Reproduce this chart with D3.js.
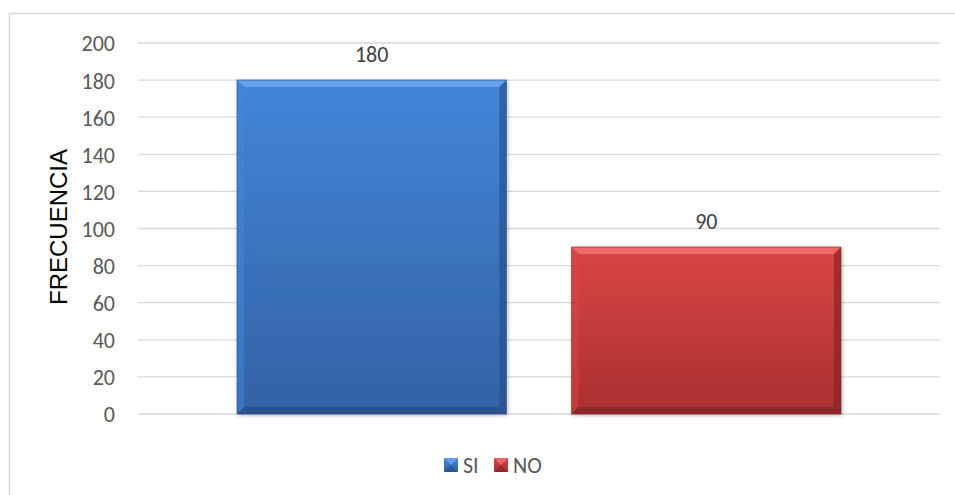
<!DOCTYPE html>
<html><head><meta charset="utf-8">
<script src="https://cdn.jsdelivr.net/npm/d3@7"></script>
<style>body{margin:0;background:#fff}svg{display:block}</style>
</head><body>
<svg id="c" width="955" height="495"></svg>
<script>
const series = ["SI", "NO"];
const values = [180, 90];
const category = [""];
const yTicks = [0, 20, 40, 60, 80, 100, 120, 140, 160, 180, 200];
const colors = {SI: {top: "#4386D8", bot: "#3362A5", light: "#6BA6EE", dark: "#254D86"},
                NO: {top: "#D94545", bot: "#A93030", light: "#EE7272", dark: "#7E2222"}};
const FONT = "Carlito, Lato, 'Open Sans', sans-serif";

const svg = d3.select("#c");
const defs = svg.append("defs");
const f = defs.append("filter").attr("id","sh").attr("x","-10%").attr("y","-10%").attr("width","120%").attr("height","120%");
f.append("feDropShadow").attr("dx",1).attr("dy",1).attr("stdDeviation",2).attr("flood-color","#000").attr("flood-opacity",0.35);
series.forEach(s => {
  const g = defs.append("linearGradient").attr("id","g"+s).attr("x1",0).attr("y1",0).attr("x2",0).attr("y2",1);
  g.append("stop").attr("offset","0%").attr("stop-color",colors[s].top);
  g.append("stop").attr("offset","100%").attr("stop-color",colors[s].bot);
});

svg.append("rect").attr("x",9.5).attr("y",13.5).attr("width",960).attr("height",500)
  .attr("fill","none").attr("stroke","#d9d9d9").attr("stroke-width",1.5);

const x0 = 138, x1 = 940;
const y = d3.scaleLinear().domain([0,200]).range([414,43]);
const xc = d3.scaleBand().domain(category).range([x0,x1]).paddingInner(0).paddingOuter(0.164);
const xs = d3.scaleBand().domain(series).range([0, xc.bandwidth()]).paddingInner(0.195).paddingOuter(0);

// gridlines
svg.append("g").selectAll("line").data(yTicks).join("line")
  .attr("x1",x0).attr("x2",x1).attr("y1",d=>y(d)).attr("y2",d=>y(d))
  .attr("stroke","#d9d9d9").attr("stroke-width",1.3);

// y axis labels
const yAxis = d3.axisLeft(y).tickValues(yTicks).tickSize(0).tickPadding(0);
const ga = svg.append("g").attr("transform","translate(115,0)").call(yAxis);
ga.select(".domain").remove();
ga.selectAll("text").attr("font-family",FONT).attr("font-size",22).attr("fill","#595959").attr("dy","0.36em");

svg.append("text").attr("transform","translate(67,227) rotate(-90)").attr("text-anchor","middle")
  .attr("font-family","'Liberation Sans', Arial, sans-serif").attr("font-size",24).attr("fill","#000").text("FRECUENCIA");

// bars
const bev = 7;
series.forEach((s,i) => {
  const bx = xc(category[0]) + xs(s), bw = xs.bandwidth();
  const by = y(values[i]), bh = y(0) - by;
  const g = svg.append("g");
  g.append("rect").attr("x",bx).attr("y",by).attr("width",bw).attr("height",bh)
    .attr("fill","url(#g"+s+")").attr("filter","url(#sh)");
  const c = colors[s];
  const L = bx, R = bx+bw, T = by, B = by+bh;
  g.append("polygon").attr("points",[[L,T],[R,T],[R-bev,T+bev],[L+bev,T+bev]].join(" ")).attr("fill",c.light).attr("opacity",0.85);
  g.append("polygon").attr("points",[[L,T],[L+bev,T+bev],[L+bev,B-bev],[L,B]].join(" ")).attr("fill",c.top).attr("opacity",0.5);
  g.append("polygon").attr("points",[[R,T],[R,B],[R-bev,B-bev],[R-bev,T+bev]].join(" ")).attr("fill",c.dark).attr("opacity",0.6);
  g.append("polygon").attr("points",[[L,B],[L+bev,B-bev],[R-bev,B-bev],[R,B]].join(" ")).attr("fill",c.dark).attr("opacity",0.7);
  g.append("rect").attr("x",bx).attr("y",by).attr("width",bw).attr("height",bh)
    .attr("fill","none").attr("stroke",c.dark).attr("stroke-width",1).attr("opacity",0.6);
  svg.append("text").attr("x",bx+bw/2).attr("y",by-18).attr("text-anchor","middle")
    .attr("font-family",FONT).attr("font-size",22).attr("fill","#404040").text(values[i]);
});

// legend
const legX = [444, 494];
series.forEach((s,i) => {
  const c = colors[s];
  const lx = legX[i], ly = 458, sz = 14;
  svg.append("rect").attr("x",lx).attr("y",ly).attr("width",sz).attr("height",sz).attr("fill","url(#g"+s+")");
  svg.append("polygon").attr("points",[[lx,ly],[lx+sz,ly],[lx+sz/2,ly+sz/2]].join(" ")).attr("fill",c.light).attr("opacity",0.8);
  svg.append("polygon").attr("points",[[lx,ly+sz],[lx+sz,ly+sz],[lx+sz/2,ly+sz/2]].join(" ")).attr("fill",c.dark).attr("opacity",0.6);
  svg.append("text").attr("x",lx+sz+5).attr("y",ly+sz+1).attr("font-family",FONT)
    .attr("font-size",22).attr("fill","#595959").text(s);
});
</script>
</body></html>
